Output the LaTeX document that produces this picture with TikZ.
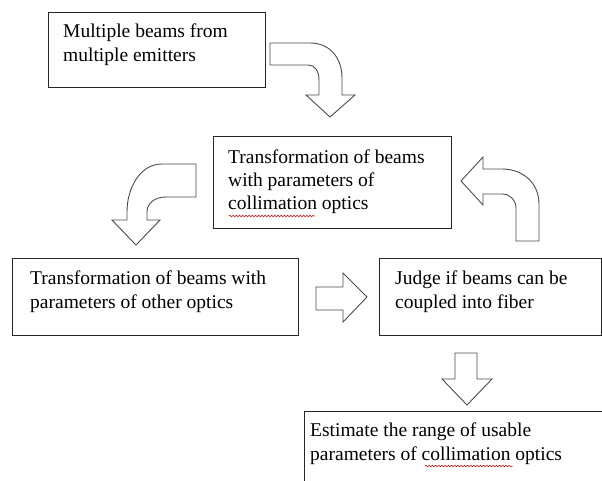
\documentclass[tikz,border=0pt]{standalone}
\usepackage{fontspec}
\setmainfont{Liberation Serif}
\usepackage{tikz}
\usetikzlibrary{positioning,decorations.pathmorphing}
\tikzset{
	thick,
	stepbox/.style = {
			draw            = black!85,
			line width      = 1.1pt,
			anchor          = north west,
			inner sep       = 0pt,
		},
	steptext/.style = {
			anchor          = base west,
			align           = left,
			inner sep       = 0pt,
			font            = \fontsize{19.5}{23.5}\selectfont,
		},
	blockarrow/.style = {
			draw            = black!70,
			fill            = white,
			line width      = 0.9pt,
			line join       = miter,
		},
	spellmark/.style = {
			draw            = red!75!black,
			line width      = 0.5pt,
			decorate,
			decoration      = {snake, amplitude=0.9pt, segment length=3.2pt},
		}
}

\begin{document}
\begin{tikzpicture}[x=1pt,y=-1pt]
			\useasboundingbox (0,0) rectangle (602,481);
			\clip (0,0) rectangle (602,481);

			% boxes
			\node[stepbox, minimum width=217pt, minimum height=75pt] (emit) at (48,12) {};
			\node[stepbox, minimum width=238pt, minimum height=92pt] (collim) at (213,136) {};
			\node[stepbox, minimum width=286pt, minimum height=77pt] (other) at (12,258) {};
			\node[stepbox, minimum width=222pt, minimum height=77pt] (judge) at (379,258) {};
			\node[stepbox, minimum width=310pt, minimum height=90pt] (estim) at (304,411) {};

			% texts (placed at the baseline of the last line)
			\node[steptext] (emitTxt) at (63,61.5) {Multiple beams from\\multiple emitters};
			\node[steptext] (collimTxt) at (228,210) {Transformation of beams\\with parameters of\\collimation optics};
			\node[steptext] (otherTxt) at (30,308) {Transformation of beams with\\parameters of other optics};
			\node[steptext] (judgeTxt) at (395,308) {Judge if beams can be\\coupled into fiber};
			\node[steptext] (estimTxt) at (310,460) {Estimate the range of usable\\parameters of collimation optics};

			% spelling marks
			\draw[spellmark] (229,216) -- (315,216);
			\draw[spellmark] (425,466) -- (513,466);

			% emit -> collim
			\draw[blockarrow] (270,43) -- (310,43) .. controls (330,43) and (342,58) .. (342,78) -- (342,95) -- (355,95) -- (330,117) -- (306,95) -- (319,95) -- (319,80) .. controls (319,71) and (315,65) .. (308,65) -- (270,65) -- cycle;

			% collim -> other
			\draw[blockarrow] (196,164) -- (162,164) .. controls (140,164) and (127,188) .. (127,212) -- (127,220) -- (112,220) -- (136,245) -- (160,220) -- (147,220) -- (147,212) .. controls (147,203) and (155,197) .. (166,197) -- (196,197) -- cycle;

			% judge -> collim
			\draw[blockarrow] (461,181) -- (483,157) -- (483,169) -- (502,169) .. controls (524,169) and (539,184) .. (539,204) -- (539,241) -- (516,241) -- (516,208) .. controls (516,200) and (510,194) .. (502,194) -- (483,194) -- (483,205) -- cycle;

			% other -> judge
			\draw[blockarrow] (316,287) -- (343,287) -- (343,273) -- (367,297) -- (343,322) -- (343,310) -- (316,310) -- cycle;

			% judge -> estim
			\draw[blockarrow] (455,353) -- (477,353) -- (477,379) -- (492,379) -- (467,405) -- (442,379) -- (455,379) -- cycle;
		\end{tikzpicture}
\end{document}
